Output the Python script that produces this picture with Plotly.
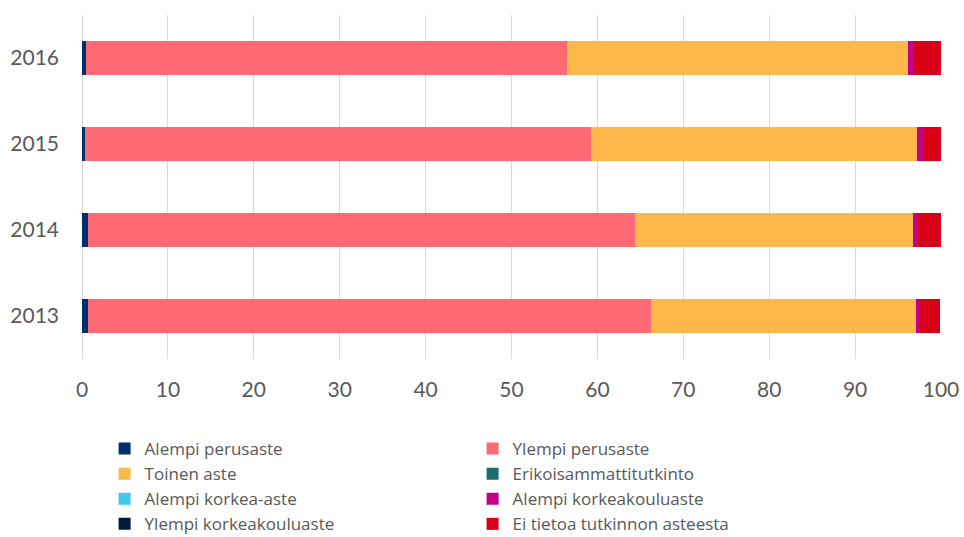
import plotly.graph_objects as go

years = ["2013", "2014", "2015", "2016"]

alempi_perusaste = [0.7, 0.7, 0.35, 0.5]
ylempi_perusaste = [65.5, 63.7, 58.9, 56.0]
toinen_aste = [30.9, 32.3, 38.0, 39.6]
erikoisammattitutkinto = [0.0, 0.0, 0.0, 0.0]
alempi_korkea_aste = [0.0, 0.0, 0.0, 0.0]
alempi_korkeakouluaste = [0.3, 0.5, 0.6, 0.8]
ylempi_korkeakouluaste = [0.0, 0.0, 0.0, 0.0]
ei_tietoa = [2.5, 2.8, 2.1, 3.1]

series = [
    ("Alempi perusaste", alempi_perusaste, "#002F6C"),
    ("Ylempi perusaste", ylempi_perusaste, "#FF6973"),
    ("Toinen aste", toinen_aste, "#FDB74A"),
    ("Erikoisammattitutkinto", erikoisammattitutkinto, "#1C6B6E"),
    ("Alempi korkea-aste", alempi_korkea_aste, "#40C8EE"),
    ("Alempi korkeakouluaste", alempi_korkeakouluaste, "#C4008A"),
    ("Ylempi korkeakouluaste", ylempi_korkeakouluaste, "#001B3C"),
    ("Ei tietoa tutkinnon asteesta", ei_tietoa, "#D80016"),
]

fig = go.Figure()
for name, vals, col in series:
    fig.add_trace(go.Bar(
        y=years, x=vals, name=name, orientation="h",
        marker=dict(color=col, line=dict(width=0)),
    ))

fig.update_layout(
    barmode="stack",
    bargap=0.6,
    width=964, height=537,
    margin=dict(l=82, r=23, t=15, b=178),
    paper_bgcolor="white", plot_bgcolor="white",
    font=dict(family="Lato, sans-serif", color="#595959"),
    showlegend=True,
    legend=dict(
        orientation="h",
        xref="container", x=0.1085, xanchor="left",
        yref="container", y=0.1974, yanchor="top",
        entrywidth=323, entrywidthmode="pixels",
        font=dict(family="'Open Sans', sans-serif", size=17, color="#595959"),
        traceorder="normal",
        itemclick=False,
    ),
    xaxis=dict(
        range=[0, 100], dtick=10, tick0=0, automargin=False,
        showgrid=True, gridcolor="#D9D9D9", gridwidth=1,
        zeroline=True, zerolinecolor="#D9D9D9", zerolinewidth=1,
        showline=False, ticks="",
        tickfont=dict(size=21, color="#595959"),
        ticklabelstandoff=16,
    ),
    yaxis=dict(
        categoryorder="array", categoryarray=years, automargin=False,
        showgrid=False, showline=False, ticks="",
        tickfont=dict(size=21, color="#595959"),
        ticklabelstandoff=22,
    ),
)

fig.write_html(
    "out.html",
    config={"displayModeBar": False},
    post_script="document.body.style.margin='0';document.body.style.overflow='hidden';",
)
